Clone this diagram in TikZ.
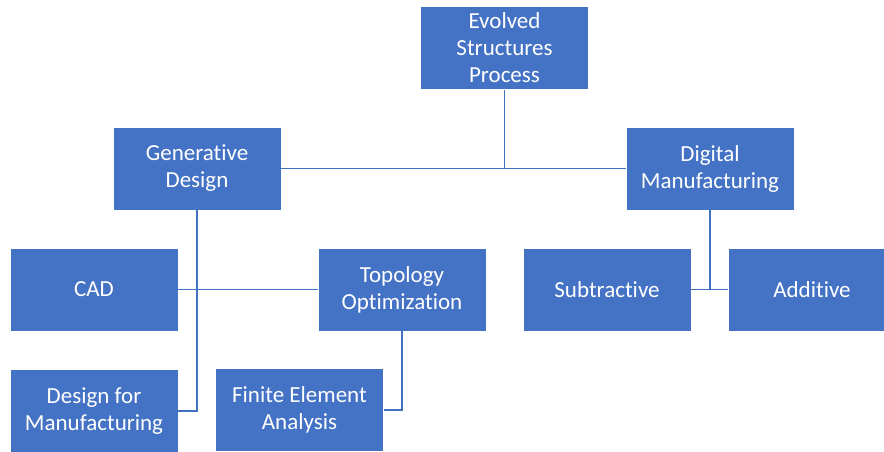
\documentclass[tikz,border=0pt]{standalone}
\usepackage{fontspec}
\setmainfont{Carlito}[Ligatures={NoCommon,NoContextual}]
\definecolor{boxblue}{HTML}{4472C4}
\definecolor{linkblue}{HTML}{4170C0}
\begin{document}
\begin{tikzpicture}[x=1pt,y=-1pt,
  boxnode/.style={rectangle, fill=boxblue, draw=white, line width=0.8pt,
    minimum width=168pt, minimum height=83pt, inner sep=0pt, align=center,
    text=white, font=\fontsize{23}{27}\selectfont},
  link/.style={draw=linkblue, line width=1.8pt}]
\useasboundingbox (0,0) rectangle (884,452);
\fill[white] (0,0) rectangle (884,452);
\node[boxnode] (ev) at (504.5,48) {Evolved\\Structures\\Process};
\node[boxnode] (gd) at (197,168.5) {Generative\\Design};
\node[boxnode] (dm) at (710,168.5) {Digital\\Manufacturing};
\node[boxnode] (cad) at (94,289.5) {CAD};
\node[boxnode] (to) at (402,289.5) {Topology\\Optimization};
\node[boxnode] (sub) at (607,289.5) {Subtractive};
\node[boxnode] (add) at (812,289.5) {Additive};
\node[boxnode] (dfm) at (94,411) {Design for\\Manufacturing};
\node[boxnode] (fea) at (299.5,410) {Finite Element\\Analysis};
\coordinate (evj) at (ev.south |- gd.east);
\coordinate (dmj) at (dm.south |- sub.east);
\draw[link] (ev.south) -- (evj);
\draw[link] (gd.east) -- (dm.west);
\draw[link] (gd.south) |- (dfm.east);
\draw[link] (cad.east) -- (to.west);
\draw[link] (to.south) |- (fea.east);
\draw[link] (dm.south) -- (dmj);
\draw[link] (sub.east) -- (add.west);
\end{tikzpicture}
\end{document}
